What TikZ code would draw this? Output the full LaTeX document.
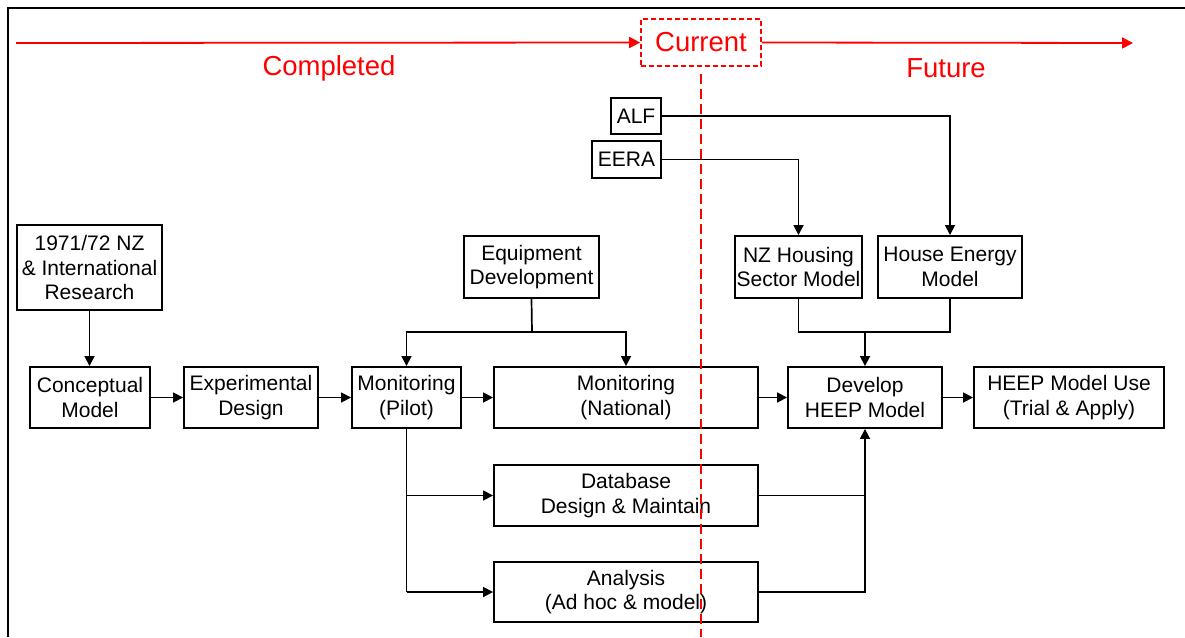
\documentclass[tikz,border=0pt]{standalone}
\usepackage{fontspec}
\setmainfont{Liberation Sans}
\usetikzlibrary{arrows.meta}
\begin{document}
\begin{tikzpicture}[x=1pt,y=-1pt,
 box/.style={draw,line width=1.9pt,rectangle,inner sep=0pt,align=center,fill=white,font=\fontsize{21}{24.5}\selectfont},
 conn/.style={line width=1.7pt,-{Triangle[length=10pt,width=10pt]}},
 ln/.style={line width=1.7pt},
 redarr/.style={red,line width=1.8pt,-{Triangle[length=11pt,width=11pt]}},
 lab/.style={red,font=\fontsize{27.5}{30}\selectfont}]
\useasboundingbox (0,0) rectangle (1185,637);
% frame
\coordinate (fa) at (8,637);
\coordinate (fb) at (8,8);
\coordinate (fc) at (1185,8);
\draw[line width=2.4pt] (fa) -- (fb) -- (fc);
% timeline
\node[draw=red,dash pattern=on 5pt off 3pt,line width=1.7pt,minimum width=120pt,minimum height=47pt,inner sep=0pt,text=red,font=\fontsize{27.5}{30}\selectfont] (cur) at (701,42.5) {Current};
\coordinate (ls) at (16,43);
\coordinate (re) at (1133,43);
\draw[redarr] (ls) -- (cur.west);
\draw[redarr] (cur.east) -- (re);
\node[lab] (comp) at (329,68.5) {Completed};
\node[lab] (fut) at (946,68.5) {Future};
% boxes
\node[box,minimum width=50pt,minimum height=36pt] (alf) at (636,116) {ALF};
\node[box,minimum width=69pt,minimum height=37pt] (eera) at (626.5,159.5) {EERA};
\node[box,minimum width=127pt,minimum height=62pt] (nzh) at (798.5,267) {NZ Housing\\Sector Model};
\node[box,minimum width=144pt,minimum height=62pt] (hem) at (950,267) {House Energy\\Model};
\node[box,minimum width=135pt,minimum height=62pt] (eq) at (531.5,267) {Equipment\\Development};
\node[box,minimum width=145pt,minimum height=85pt] (res) at (89.5,267.5) {1971/72 NZ\\\& International\\Research};
\node[box,minimum width=120pt,minimum height=61pt] (cm) at (90,397.5) {Conceptual\\Model};
\node[box,minimum width=134pt,minimum height=61pt] (ed) at (251,397.5) {Experimental\\Design};
\node[box,minimum width=109pt,minimum height=61pt] (mp) at (406.5,397.5) {Monitoring\\(Pilot)};
\node[box,minimum width=264pt,minimum height=61pt] (mn) at (626,397.5) {Monitoring\\(National)};
\node[box,minimum width=154pt,minimum height=61pt] (dev) at (865,397.5) {Develop\\HEEP Model};
\node[box,minimum width=190pt,minimum height=61pt] (use) at (1069,397.5) {HEEP Model Use\\(Trial \& Apply)};
\node[box,minimum width=264pt,minimum height=61pt] (db) at (626,495.5) {Database\\Design \& Maintain};
\node[box,minimum width=264pt,minimum height=60pt] (an) at (626,592) {Analysis\\(Ad hoc \& model)};
% connectors
\draw[conn] (res.south) -- (res.south |- cm.north);
\draw[conn] (cm) -- (ed);
\draw[conn] (ed) -- (mp);
\draw[conn] (mp) -- (mn);
\draw[conn] (mn) -- (dev);
\draw[conn] (dev) -- (use);
\coordinate (j1) at (532,332);
\draw[ln] (eq.south) -- (j1);
\draw[conn] (j1) -| (mp.north);
\draw[conn] (j1) -| (mn.north);
\draw[conn] (alf.east) -| (hem.north);
\draw[conn] (eera.east) -| (nzh.north);
\coordinate (j2) at (865,332);
\draw[ln] (nzh.south) -- (nzh.south |- j2) -- (hem.south |- j2) -- (hem.south);
\draw[conn] (j2) -- (dev.north);
\draw[ln] (mp.south) -- (mp.south |- an.west);
\draw[conn] (mp.south |- db.west) -- (db.west);
\draw[conn] (mp.south |- an.west) -- (an.west);
\draw[ln] (db.east) -- (dev.south |- db.east);
\draw[conn] (an.east) -| (dev.south);
% current line
\coordinate (vb) at (701,637);
\draw[red,line width=1.6pt,dash pattern=on 10pt off 5pt] ([yshift=-7pt]cur.south) -- (vb);
\end{tikzpicture}
\end{document}
